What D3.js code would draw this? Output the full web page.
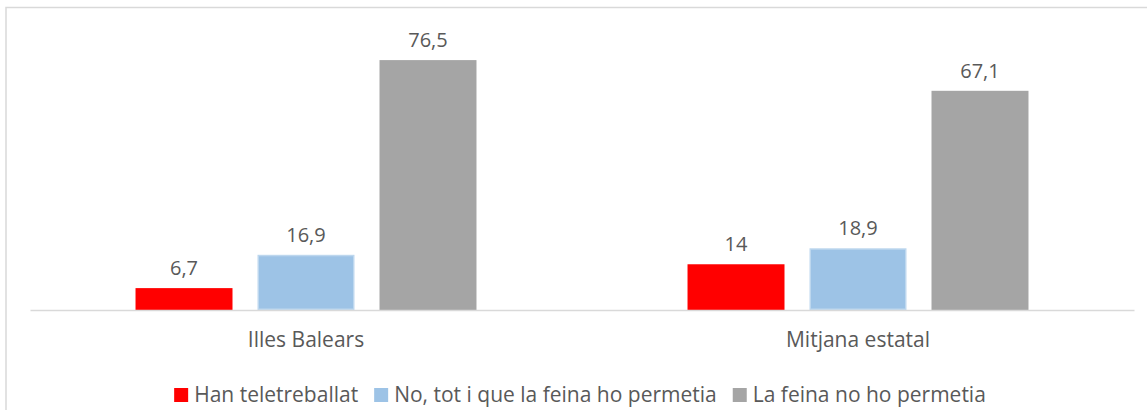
<!DOCTYPE html>
<html>
<head>
    <meta charset="utf-8" />
    <title>Teletreball</title>
    <script src="https://d3js.org/d3.v7.min.js" charset="utf-8"></script>
    <style>
        body { margin: 0; background: #fff; }
        text { font-family: "Open Sans", sans-serif; fill: #595959; }
    </style>
</head>
<body>
    <svg id="chart" width="1147" height="410"></svg>
    <script>
        // dades
        var categories = ["Illes Balears", "Mitjana estatal"];
        var seriesNames = ["Han teletreballat", "No, tot i que la feina ho permetia", "La feina no ho permetia"];
        var hanTeletreballat = [6.7, 14];
        var noPermetia = [16.9, 18.9];
        var feinaNoPermetia = [76.5, 67.1];
        var valueLabels = [["6,7", "14"], ["16,9", "18,9"], ["76,5", "67,1"]];

        var colors = ["#ff0000", "#9dc3e6", "#a5a5a5"];
        var strokes = ["none", "#bdd7ee", "none"];

        var values = [hanTeletreballat, noPermetia, feinaNoPermetia];

        var svg = d3.select("#chart"),
            margin = { top: 16, left: 30, right: 13, bottom: 100 },
            width = +svg.attr("width") - margin.left - margin.right,
            height = +svg.attr("height") - margin.top - margin.bottom;

        // kader rond de grafiek
        svg.append("rect")
            .attr("x", 6).attr("y", 7.5)
            .attr("width", 1200).attr("height", 500)
            .attr("fill", "none")
            .attr("stroke", "#d9d9d9")
            .attr("stroke-width", 1.5);

        var g = svg.append("g")
            .attr("transform", "translate(" + margin.left + "," + margin.top + ")");

        var x0 = d3.scaleBand().domain(categories).range([0, width]);
        var x1 = d3.scaleBand().domain(d3.range(seriesNames.length))
            .range([0, x0.bandwidth()])
            .paddingInner(0.205)
            .paddingOuter(0.865);
        var y = d3.scaleLinear().domain([0, 90]).range([height, 0]);

        // balken
        categories.forEach(function (cat, ci) {
            var grp = g.append("g").attr("transform", "translate(" + x0(cat) + ",0)");
            values.forEach(function (serie, si) {
                var sw = strokes[si] === "none" ? 0 : 1.5;
                grp.append("rect")
                    .attr("x", x1(si) + sw / 2)
                    .attr("y", y(serie[ci]) + sw / 2)
                    .attr("width", x1.bandwidth() - sw)
                    .attr("height", height - y(serie[ci]) - sw)
                    .attr("fill", colors[si])
                    .attr("stroke", strokes[si])
                    .attr("stroke-width", sw);
                grp.append("text")
                    .attr("x", x1(si) + x1.bandwidth() / 2)
                    .attr("y", y(serie[ci]) - 13)
                    .attr("text-anchor", "middle")
                    .style("font-size", "20px")
                    .text(valueLabels[si][ci]);
            });
        });

        // x-as
        var xAxis = g.append("g")
            .attr("transform", "translate(0," + height + ")")
            .call(d3.axisBottom(x0).tickSize(0).tickPadding(0));
        xAxis.select(".domain").attr("stroke", "#d9d9d9").attr("stroke-width", 1.5);
        xAxis.selectAll("text")
            .attr("y", 37)
            .attr("dy", null)
            .style("font-size", "21px")
            .style("fill", "#595959")
            .style("font-family", "'Open Sans', sans-serif");

        // legenda
        var legend = svg.append("g");
        var lx = 0;
        seriesNames.forEach(function (name, i) {
            var item = legend.append("g").attr("transform", "translate(" + lx + ",0)");
            item.append("rect")
                .attr("x", 0).attr("y", 388)
                .attr("width", 14).attr("height", 14)
                .attr("fill", colors[i]);
            var t = item.append("text")
                .attr("x", 20).attr("y", 402)
                .style("font-size", "21px")
                .text(name);
            lx += 20 + t.node().getComputedTextLength() + 16;
        });
        var legendWidth = lx - 16;
        legend.attr("transform", "translate(" + (580 - legendWidth / 2) + ",0)");
    </script>
</body>
</html>
